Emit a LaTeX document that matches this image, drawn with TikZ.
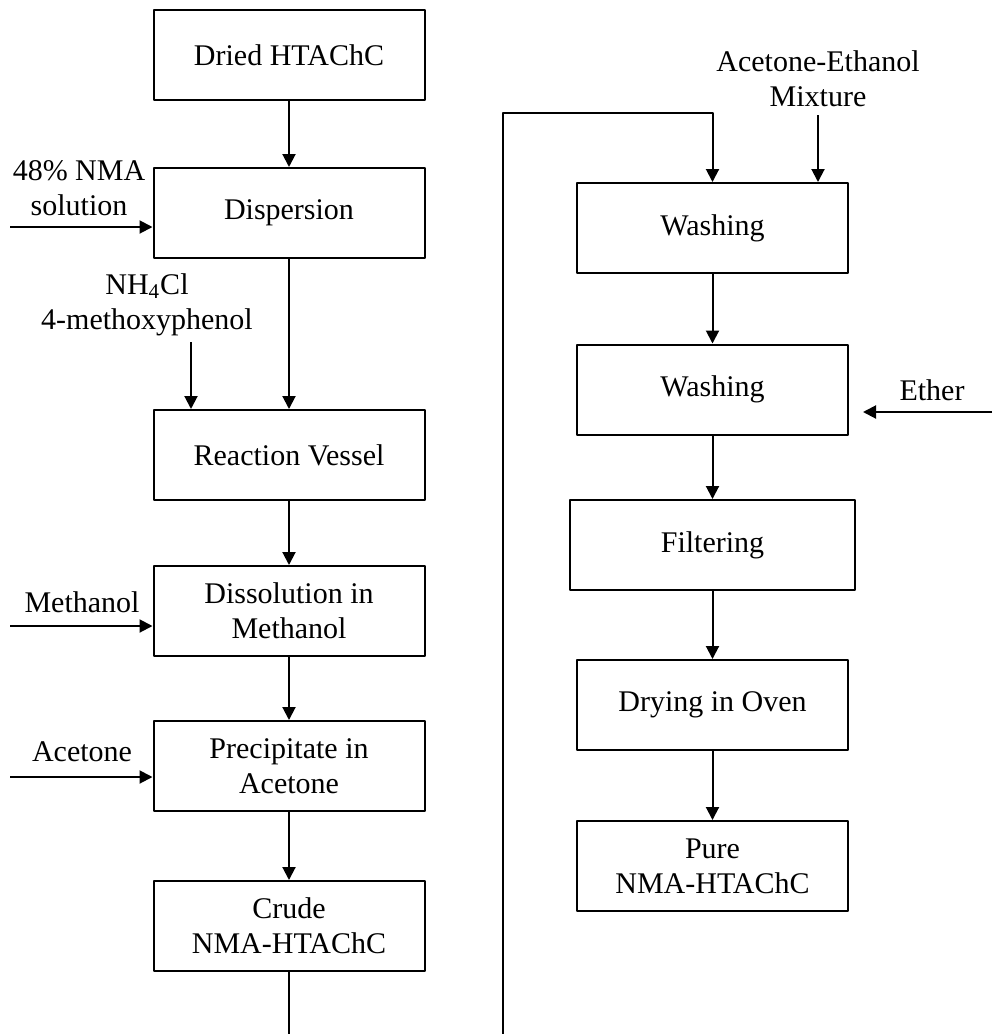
\documentclass[tikz,border=0pt]{standalone}
\usepackage{fontspec}
\setmainfont{Liberation Serif}
\usetikzlibrary{arrows.meta}

\begin{document}
\begin{tikzpicture}[x=0.5pt, y=-0.5pt, line join=round, >={Triangle[length=6.5pt, width=6.5pt]},
    box/.style={draw, line width=1pt, minimum width=135.5pt, minimum height=45pt,
        align=center, inner sep=2pt, font=\fontsize{15}{17.5}\selectfont},
    lbl/.style={align=center, inner sep=1pt, font=\fontsize{15}{17.5}\selectfont},
    flow/.style={->, line width=1pt}]
    \useasboundingbox (0,0) rectangle (992,1034);

    % Left column
    \node[box] (dried)  at (289,55)  {Dried HTAChC};
    \node[box] (disp)   at (289,213) {Dispersion};
    \node[box] (react)  at (289,455) {Reaction Vessel};
    \node[box] (dissol) at (289,611) {Dissolution in\\Methanol};
    \node[box] (precip) at (289,766) {Precipitate in\\Acetone};
    \node[box] (crude)  at (289,926) {Crude\\NMA-HTAChC};

    % Right column
    \node[box] (wash1)  at (712.5,228) {Washing};
    \node[box] (wash2)  at (712.5,389.5) {Washing};
    \node[box, minimum width=142.5pt] (filter) at (712.5,545) {Filtering};
    \node[box] (dry)    at (712.5,705) {Drying in Oven};
    \node[box] (pure)   at (712.5,866) {Pure\\NMA-HTAChC};

    % Inputs
    \node[lbl] (nma)  at (79,188)  {48\% NMA\\solution};
    \node[lbl] (nhcl) at (147,305) {NH\textsubscript{4}Cl\\4-methoxyphenol};
    \node[lbl] (meth) at (82,602)  {Methanol};
    \node[lbl] (acet) at (82,752)  {Acetone};
    \node[lbl] (mix)  at (818,79)  {Acetone-Ethanol\\Mixture};
    \node[lbl] (eth)  at (932,390) {Ether};

    \coordinate (nmain)  at (10,227);
    \coordinate (nhin)   at (191,342);
    \coordinate (methin) at (10,626);
    \coordinate (acetin) at (10,777);
    \coordinate (mixin)  at (818,115);
    \coordinate (ethin)  at (992,412);
    \coordinate (ethend) at (863,412);

    \draw[flow] (nmain) -- (nmain -| disp.west);
    \draw[flow] (nhin) -- (nhin |- react.north);
    \draw[flow] (methin) -- (methin -| dissol.west);
    \draw[flow] (acetin) -- (acetin -| precip.west);
    \draw[flow] (mixin) -- (mixin |- wash1.north);
    \draw[flow] (ethin) -- (ethend);

    % Main flow
    \draw[flow] (dried) -- (disp);
    \draw[flow] (disp) -- (react);
    \draw[flow] (react) -- (dissol);
    \draw[flow] (dissol) -- (precip);
    \draw[flow] (precip) -- (crude);
    \draw[flow] (wash1) -- (wash2);
    \draw[flow] (wash2) -- (filter);
    \draw[flow] (filter) -- (dry);
    \draw[flow] (dry) -- (pure);

    % Crude to washing
    \coordinate (bot)   at (0,1034);
    \coordinate (loopb) at (503,1034);
    \coordinate (loopt) at (503,113);
    \draw[line width=1pt] (crude) -- (crude.south |- bot);
    \draw[flow] (loopb) -- (loopt) -| (wash1.north);
\end{tikzpicture}
\end{document}
